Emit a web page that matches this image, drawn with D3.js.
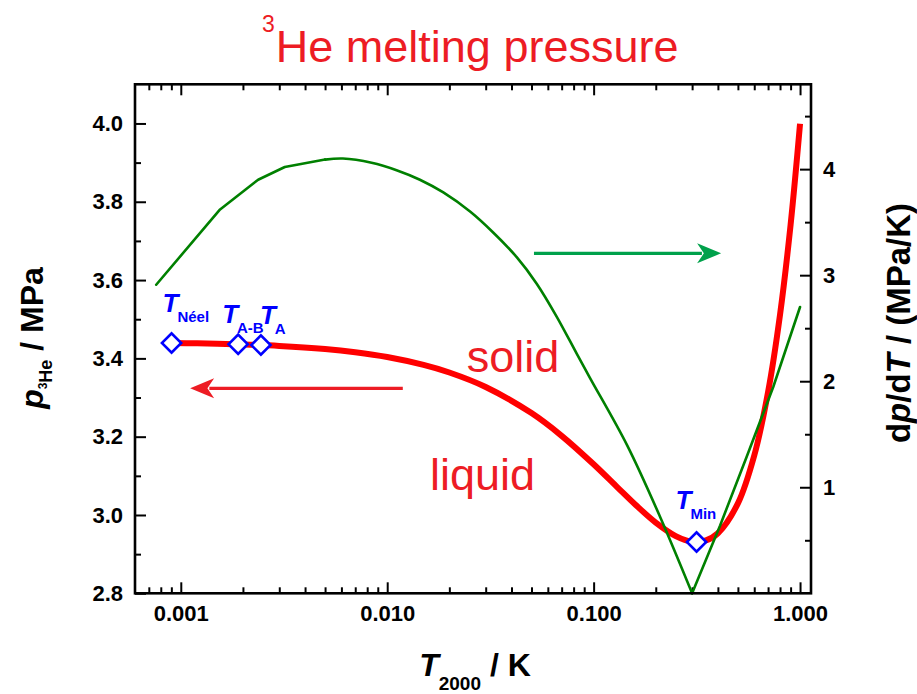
<!DOCTYPE html>
<html>
<head>
<meta charset="utf-8">
<script src="https://cdn.jsdelivr.net/npm/d3@7"></script>
<style>
  body { margin: 0; background: #fff; }
  svg text { font-family: "Liberation Sans", Arial, Helvetica, sans-serif; }
</style>
</head>
<body>
<svg id="chart" width="917" height="694"></svg>
<script>
// 3He melting curve on the PLTS-2000 scale: temperature (K) and pressure (MPa)
const meltT = [0.000902, 0.0012, 0.0015, 0.002, 0.003, 0.005, 0.007, 0.01, 0.015, 0.02,
               0.03, 0.05, 0.07, 0.1, 0.13, 0.16, 0.2, 0.25, 0.3, 0.35, 0.4, 0.5, 0.6,
               0.7, 0.8, 0.9, 1.0];
const meltP = [3.4393, 3.4385, 3.4375, 3.4357, 3.4319, 3.4239, 3.4157, 3.4035, 3.3834, 3.3640,
               3.3270, 3.2602, 3.2022, 3.1295, 3.0713, 3.0255, 2.9805, 2.9461, 2.9319, 2.9350,
               2.9533, 3.0296, 3.1519, 3.3142, 3.5118, 3.7413, 3.9991];

// Magnitude of the slope |dp/dT| (MPa/K)
const slopeT = [0.00076, 0.00155, 0.00237, 0.00319, 0.0050, 0.0061, 0.0084, 0.0111, 0.0144,
                0.0187, 0.0252, 0.0327, 0.0424, 0.0530, 0.0662, 0.0828, 0.0961, 0.145, 0.210,
                0.300, 0.410, 0.552, 0.743, 1.0];
const slopeV = [2.91, 3.62, 3.90, 4.02, 4.09, 4.10, 4.06, 3.99, 3.90,
                3.78, 3.60, 3.40, 3.17, 2.92, 2.61, 2.26, 2.03, 1.40, 0.72,
                0.00, 0.64, 1.29, 1.95, 2.70];

// Fixed points on the melting curve
const fixT   = [0.000902, 0.001896, 0.002444, 0.31524];
const fixP   = [3.4393, 3.4360, 3.4341, 2.93113];
const fixSub = ["Néel", "A-B", "A", "Min"];

// Tick values and labels
const xMajor = [0.001, 0.01, 0.1, 1];
const xLabels = ["0.001", "0.010", "0.100", "1.000"];
const pMajor = [2.8, 3.0, 3.2, 3.4, 3.6, 3.8, 4.0];
const pMinor = [2.9, 3.1, 3.3, 3.5, 3.7, 3.9];
const sMajor = [1, 2, 3, 4];
const sMinor = [0.5, 1.5, 2.5, 3.5, 4.5];

// ---- layout ----
const frame = { left: 135, right: 811, top: 84.3, bottom: 593.3 };
const RED = "#ff0000", TEXT_RED = "#ed1c24", GREEN = "#008000", ARROW_GREEN = "#00a14b", BLUE = "#0000ff";
const FONT = '"Liberation Sans", Arial, Helvetica, sans-serif';

const svg = d3.select("#chart");

const x  = d3.scaleLog().domain([0.0006, 1.13]).range([frame.left, frame.right]);
const yP = d3.scaleLinear().domain([2.8, 4.1]).range([frame.bottom, frame.top]);
const yS = d3.scaleLinear().domain([0, 4.8]).range([frame.bottom, frame.top]);

// minor ticks inside each decade of the log axis
const xMinor = [];
for (let e = -4; e <= 0; e++) {
  for (let m = 2; m <= 9; m++) {
    const v = m * Math.pow(10, e);
    if (v > 0.00061 && v < 1.12) xMinor.push(+v.toPrecision(3));
  }
}

function styleAxis(g) {
  g.select(".domain").remove();
  g.selectAll(".tick line").attr("stroke", "#000").attr("stroke-width", 2);
  g.selectAll(".tick text")
    .attr("fill", "#000")
    .attr("font-size", 22)
    .attr("font-weight", "bold")
    .attr("font-family", FONT);
}

// bottom axis
svg.append("g").attr("transform", `translate(0,${frame.bottom})`)
  .call(d3.axisBottom(x).tickValues(xMajor).tickFormat((d, i) => xLabels[i])
        .tickSizeInner(-11).tickSizeOuter(0).tickPadding(12))
  .call(styleAxis);
svg.append("g").attr("transform", `translate(0,${frame.bottom})`)
  .call(d3.axisBottom(x).tickValues(xMinor).tickFormat("").tickSizeInner(-6).tickSizeOuter(0))
  .call(styleAxis);
// top axis (mirror)
svg.append("g").attr("transform", `translate(0,${frame.top})`)
  .call(d3.axisTop(x).tickValues(xMajor).tickFormat("").tickSizeInner(-11).tickSizeOuter(0))
  .call(styleAxis);
svg.append("g").attr("transform", `translate(0,${frame.top})`)
  .call(d3.axisTop(x).tickValues(xMinor).tickFormat("").tickSizeInner(-6).tickSizeOuter(0))
  .call(styleAxis);
// left axis: pressure
svg.append("g").attr("transform", `translate(${frame.left},0)`)
  .call(d3.axisLeft(yP).tickValues(pMajor).tickFormat(d3.format(".1f"))
        .tickSizeInner(-11).tickSizeOuter(0).tickPadding(12))
  .call(styleAxis);
svg.append("g").attr("transform", `translate(${frame.left},0)`)
  .call(d3.axisLeft(yP).tickValues(pMinor).tickFormat("").tickSizeInner(-6).tickSizeOuter(0))
  .call(styleAxis);
// right axis: slope
svg.append("g").attr("transform", `translate(${frame.right},0)`)
  .call(d3.axisRight(yS).tickValues(sMajor).tickFormat(d3.format("d"))
        .tickSizeInner(-11).tickSizeOuter(0).tickPadding(12))
  .call(styleAxis);
svg.append("g").attr("transform", `translate(${frame.right},0)`)
  .call(d3.axisRight(yS).tickValues(sMinor).tickFormat("").tickSizeInner(-6).tickSizeOuter(0))
  .call(styleAxis);

// ---- melting pressure curve ----
const melt = meltT.map((t, i) => [t, meltP[i]]);
svg.append("path")
  .datum(melt)
  .attr("fill", "none")
  .attr("stroke", RED)
  .attr("stroke-width", 6)
  .attr("stroke-linejoin", "round")
  .attr("d", d3.line().x(d => x(d[0])).y(d => yP(d[1])).curve(d3.curveCatmullRom.alpha(0.5)));

// ---- slope curve: coarse linear start, smooth middle, sharp zero at the minimum ----
const slope = slopeT.map((t, i) => [t, slopeV[i]]);
const vIdx = slopeV.indexOf(0);
const slopeParts = [
  { pts: slope.slice(0, 5), curve: d3.curveLinear },
  { pts: slope.slice(4, vIdx + 1), curve: d3.curveCatmullRom.alpha(0.5) },
  { pts: slope.slice(vIdx), curve: d3.curveLinear }
];
slopeParts.forEach(part => {
  svg.append("path")
    .datum(part.pts)
    .attr("fill", "none")
    .attr("stroke", GREEN)
    .attr("stroke-width", 2.6)
    .attr("stroke-linejoin", "round")
    .attr("stroke-linecap", "round")
    .attr("d", d3.line().x(d => x(d[0])).y(d => yS(d[1])).curve(part.curve));
});

// ---- axis-assignment arrows ----
function arrow(x1, x2, y, color) {
  const dir = Math.sign(x2 - x1);
  const headLen = 24, headHalf = 10;
  svg.append("line")
    .attr("x1", x1).attr("y1", y).attr("x2", x2 - dir * headLen * 0.8).attr("y2", y)
    .attr("stroke", color).attr("stroke-width", 3.2);
  svg.append("path")
    .attr("d", `M${x2},${y} L${x2 - dir * headLen},${y - headHalf} L${x2 - dir * headLen * 0.72},${y} L${x2 - dir * headLen},${y + headHalf} Z`)
    .attr("fill", color);
}
// pressure curve belongs to the left axis
arrow(x(0.0119), x(0.00111), yP(3.3236), TEXT_RED);
// slope curve belongs to the right axis
arrow(x(0.0514), x(0.4146), yS(3.206), ARROW_GREEN);

// phase labels
svg.append("text").attr("x", x(0.0243)).attr("y", yP(3.365))
  .attr("font-size", 45).attr("fill", TEXT_RED).text("solid");
svg.append("text").attr("x", x(0.0161)).attr("y", yP(3.064))
  .attr("font-size", 45).attr("fill", TEXT_RED).text("liquid");

// ---- fixed points ----
const diamond = d3.symbol().type(d3.symbolSquare).size(185);
fixT.forEach((t, i) => {
  svg.append("path")
    .attr("d", diamond())
    .attr("transform", `translate(${x(t)},${yP(fixP[i])}) rotate(45)`)
    .attr("fill", "#fff")
    .attr("stroke", BLUE)
    .attr("stroke-width", 2.6);
});
// label placement relative to each marker (dx, dy of the "T" baseline start)
const fixLabelOffset = [[-9, -31], [-16, -21], [-1, -21], [-21, -33]];
fixT.forEach((t, i) => {
  const [dx, dy] = fixLabelOffset[i];
  const lbl = svg.append("text")
    .attr("x", x(t) + dx).attr("y", yP(fixP[i]) + dy)
    .attr("fill", BLUE).attr("font-weight", "bold");
  lbl.append("tspan").attr("font-size", 26).attr("font-style", "italic").text("T");
  lbl.append("tspan").attr("font-size", 15).attr("dy", 10).attr("dx", -1).text(fixSub[i]);
});

// ---- frame ----
svg.append("rect")
  .attr("x", frame.left).attr("y", frame.top)
  .attr("width", frame.right - frame.left).attr("height", frame.bottom - frame.top)
  .attr("fill", "none").attr("stroke", "#000").attr("stroke-width", 2.6);

// ---- titles ----
const title = svg.append("text").attr("x", 262).attr("y", 61.7).attr("fill", TEXT_RED);
title.append("tspan").attr("font-size", 23).attr("dy", -30).text("3");
title.append("tspan").attr("font-size", 45).attr("dy", 30).attr("dx", 1).text("He melting pressure");

// x title
const xt = svg.append("text").attr("x", 475).attr("y", 676)
  .attr("text-anchor", "middle").attr("font-weight", "bold").attr("fill", "#000");
xt.append("tspan").attr("font-size", 32).attr("font-style", "italic").text("T");
xt.append("tspan").attr("font-size", 19).attr("dy", 14).text("2000");
xt.append("tspan").attr("font-size", 32).attr("dy", -14).text(" / K");

// left title
const lt = svg.append("text")
  .attr("transform", "translate(43,338) rotate(-90)")
  .attr("text-anchor", "middle").attr("font-weight", "bold").attr("fill", "#000");
lt.append("tspan").attr("font-size", 32).attr("font-style", "italic").text("p");
lt.append("tspan").attr("font-size", 12).attr("dy", 4).text("3");
lt.append("tspan").attr("font-size", 18).attr("dy", 5).text("He");
lt.append("tspan").attr("font-size", 32).attr("dy", -9).text(" / MPa");

// right title
const rt = svg.append("text")
  .attr("transform", "translate(910,323) rotate(-90)")
  .attr("text-anchor", "middle").attr("font-weight", "bold").attr("font-size", 33).attr("fill", "#000");
rt.append("tspan").text("d");
rt.append("tspan").attr("font-style", "italic").text("p");
rt.append("tspan").text("/d");
rt.append("tspan").attr("font-style", "italic").text("T");
rt.append("tspan").text(" / (MPa/K)");
</script>
</body>
</html>
